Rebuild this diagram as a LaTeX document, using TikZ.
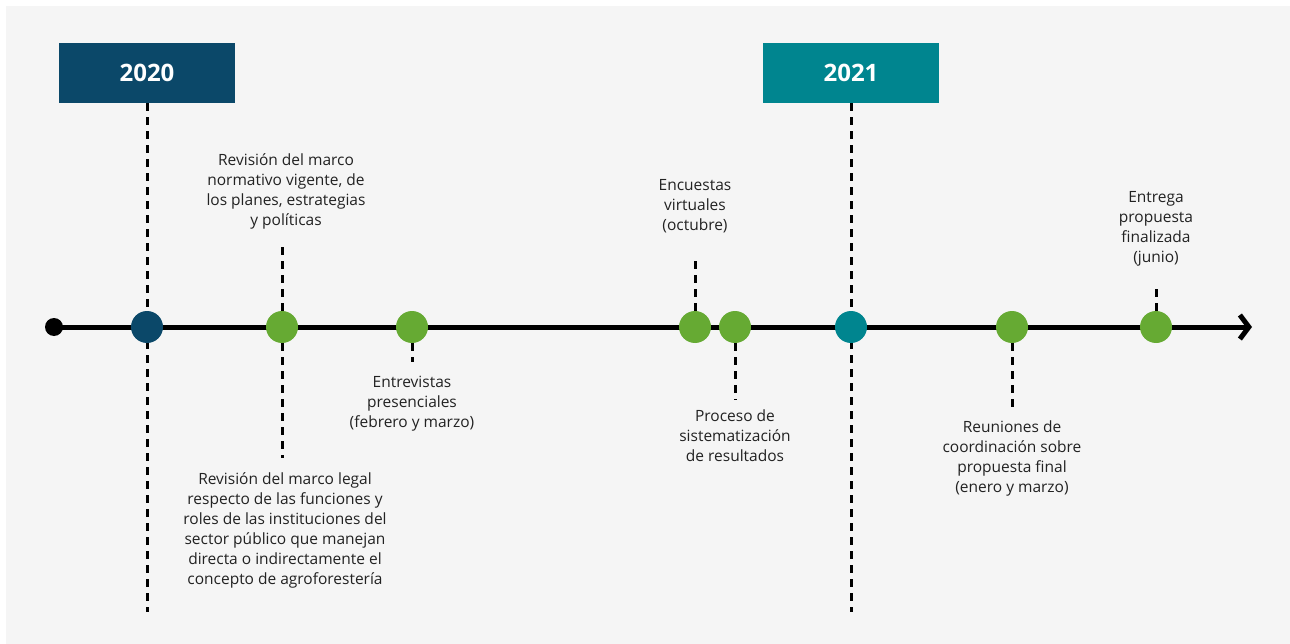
\documentclass[tikz,border=0pt]{standalone}
\usepackage{fontspec}
\setmainfont{Open Sans}
\usetikzlibrary{arrows.meta}

\definecolor{bgpanel}{HTML}{F5F5F5}
\definecolor{year20}{HTML}{0B4869}
\definecolor{year21}{HTML}{00858F}
\definecolor{hito}{HTML}{66AA33}
\definecolor{texto}{HTML}{222222}

\tikzset{
  yearbox/.style={fill=#1, minimum width=176pt, minimum height=60pt, inner sep=0pt,
    text=white, font=\fontsize{24}{28}\selectfont\bfseries},
  event/.style={circle, fill=#1, minimum size=32pt, inner sep=0pt},
  event/.default=hito,
  dashline/.style={line width=3pt, dash pattern=on 8pt off 6pt},
  label/.style={align=center, inner sep=0pt, text=texto,
    font=\fontsize{15.5}{20}\selectfont}
}

\begin{document}
\begin{tikzpicture}[x=1pt, y=-1pt]

   \fill[white] (0,0) rectangle (1290,644);
   \fill[bgpanel] (6,6) rectangle (1290,644);

   % years
   \node [yearbox=year20] (y20) at (147,73) {2020};
   \node [yearbox=year21] (y21) at (851,73) {2021};
   \coordinate (z20) at (147,612);
   \coordinate (z21) at (851,612);
   \draw [dashline] (y20) -- (z20);
   \draw [dashline] (y21) -- (z21);

   % timeline
   \node [circle, fill=black, minimum size=18pt, inner sep=0pt] (start) at (54,327) {};
   \coordinate (end) at (1252,327);
   \draw [line width=5pt, -{Straight Barb[length=9pt, width=24pt]}] (start.center) -- (end);

   \foreach \x/\t in {282/a, 412/b, 695/c, 735/d, 1012/e, 1156/f}
     \node [event] (v\t) at (\x,327) {};

   \foreach \i/\j/\x/\y in {a/ua/282/243, a/da/282/458, b/db/412/362, c/uc/695/255,
                            d/dd/735/400, e/de/1012/410, f/uf/1156/287}
     {
       \coordinate (\j) at (\x,\y);
       \draw [dashline] (v\i) -- (\j);
     }

   \node [event=year20] (v20) at (147,327) {};
   \node [event=year21] (v21) at (851,327) {};

   % labels
   \node [label, anchor=north] (ta) at (286,153)
     {Revisión del marco\\normativo vigente, de\\los planes, estrategias\\y políticas};
   \node [label, anchor=north] (tb) at (285,472)
     {Revisión del marco legal\\respecto de las funciones y\\roles de las instituciones del\\sector público que manejan\\directa o indirectamente el\\concepto de agroforestería};
   \node [label, anchor=north] (tc) at (412,376)
     {Entrevistas\\presenciales\\(febrero y marzo)};
   \node [label, anchor=north] (td) at (695,179)
     {Encuestas\\virtuales\\(octubre)};
   \node [label, anchor=north] (te) at (735,410)
     {Proceso de\\sistematización\\de resultados};
   \node [label, anchor=north] (tf) at (1012,421)
     {Reuniones de\\coordinación sobre\\propuesta final\\(enero y marzo)};
   \node [label, anchor=north] (tg) at (1156,191)
     {Entrega\\propuesta\\finalizada\\(junio)};

\end{tikzpicture}
\end{document}
